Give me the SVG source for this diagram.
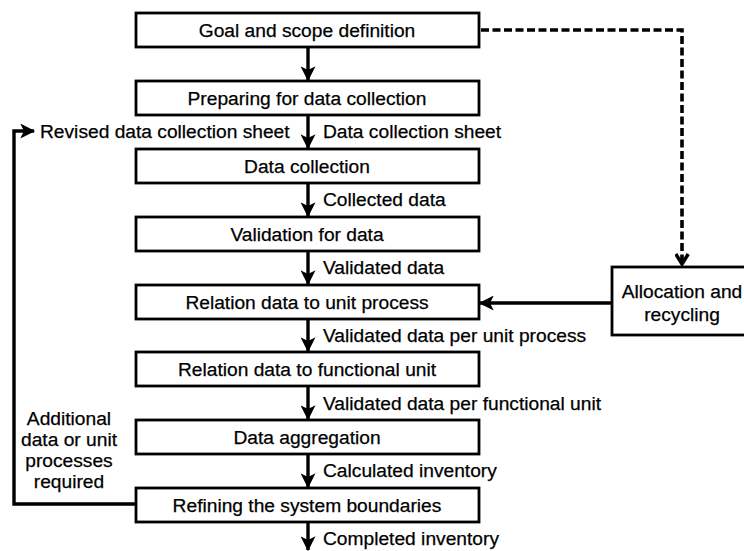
<svg xmlns="http://www.w3.org/2000/svg" width="744" height="551" viewBox="0 0 744 551">
<defs>
<style>
.box{fill:#fff;stroke:#000;stroke-width:2.8}
.t{font-family:"Liberation Sans",Arial,sans-serif;font-size:19.2px;fill:#000;stroke:#000;stroke-width:0.25}
.c{text-anchor:middle}
.ln{fill:none;stroke:#000;stroke-width:3.4}
.dash{fill:none;stroke:#000;stroke-width:3.6;stroke-dasharray:8 3.5}
</style>
<marker id="ah" markerUnits="userSpaceOnUse" markerWidth="15" markerHeight="15" viewBox="0 0 12 12" refX="11" refY="6" orient="auto">
<path d="M0,0 L12,6 L0,12 L3,6 z" fill="#000"/>
</marker>
<marker id="ch" markerUnits="userSpaceOnUse" markerWidth="15" markerHeight="15" viewBox="0 0 12 12" refX="10" refY="6" orient="auto">
<path d="M2,1 L10,6 L2,11" fill="none" stroke="#000" stroke-width="2.8"/>
</marker>
</defs>
<rect width="744" height="551" fill="#fff"/>
<g id="connectors">
<line class="ln" x1="308" y1="48" x2="308" y2="80" marker-end="url(#ah)"/>
<line class="ln" x1="308" y1="116" x2="308" y2="148" marker-end="url(#ah)"/>
<line class="ln" x1="308" y1="184" x2="308" y2="216" marker-end="url(#ah)"/>
<line class="ln" x1="308" y1="252" x2="308" y2="284" marker-end="url(#ah)"/>
<line class="ln" x1="308" y1="320" x2="308" y2="351" marker-end="url(#ah)"/>
<line class="ln" x1="308" y1="387" x2="308" y2="419" marker-end="url(#ah)"/>
<line class="ln" x1="308" y1="455" x2="308" y2="487" marker-end="url(#ah)"/>
<line class="ln" x1="308" y1="523" x2="308" y2="550" marker-end="url(#ah)"/>
<path class="dash" d="M481,30 H682 V264" marker-end="url(#ch)"/>
<line class="ln" x1="612" y1="303" x2="480" y2="303" marker-end="url(#ah)"/>
<path class="ln" d="M136,504 H14 V131 H34" marker-end="url(#ah)"/>
</g>
<g id="n1"><rect class="box" x="136" y="13" width="343" height="34"/><text class="t c" x="307" y="37">Goal and scope definition</text></g>
<g id="n2"><rect class="box" x="136" y="81" width="343" height="34"/><text class="t c" x="307" y="105">Preparing for data collection</text></g>
<g id="n3"><rect class="box" x="136" y="149" width="343" height="34"/><text class="t c" x="307" y="173">Data collection</text></g>
<g id="n4"><rect class="box" x="136" y="217" width="343" height="34"/><text class="t c" x="307" y="241">Validation for data</text></g>
<g id="n5"><rect class="box" x="136" y="285" width="343" height="34"/><text class="t c" x="307" y="309">Relation data to unit process</text></g>
<g id="n6"><rect class="box" x="136" y="352" width="343" height="34"/><text class="t c" x="307" y="376">Relation data to functional unit</text></g>
<g id="n7"><rect class="box" x="136" y="420" width="343" height="34"/><text class="t c" x="307" y="444">Data aggregation</text></g>
<g id="n8"><rect class="box" x="136" y="488" width="343" height="34"/><text class="t c" x="307" y="512">Refining the system boundaries</text></g>
<g id="n9"><rect class="box" x="612" y="267" width="145" height="68"/><text class="t c" x="682" y="298">Allocation and</text><text class="t c" x="682" y="321">recycling</text></g>
<g id="labels">
<text class="t" x="40" y="138">Revised data collection sheet</text>
<text class="t" x="323" y="138">Data collection sheet</text>
<text class="t" x="323" y="206">Collected data</text>
<text class="t" x="323" y="274">Validated data</text>
<text class="t" x="323" y="342">Validated data per unit process</text>
<text class="t" x="323" y="410">Validated data per functional unit</text>
<text class="t" x="323" y="477">Calculated inventory</text>
<text class="t" x="323" y="545">Completed inventory</text>
<text class="t c" x="69" y="425">Additional</text>
<text class="t c" x="69" y="446">data or unit</text>
<text class="t c" x="69" y="467">processes</text>
<text class="t c" x="69" y="488">required</text>
</g>
</svg>
